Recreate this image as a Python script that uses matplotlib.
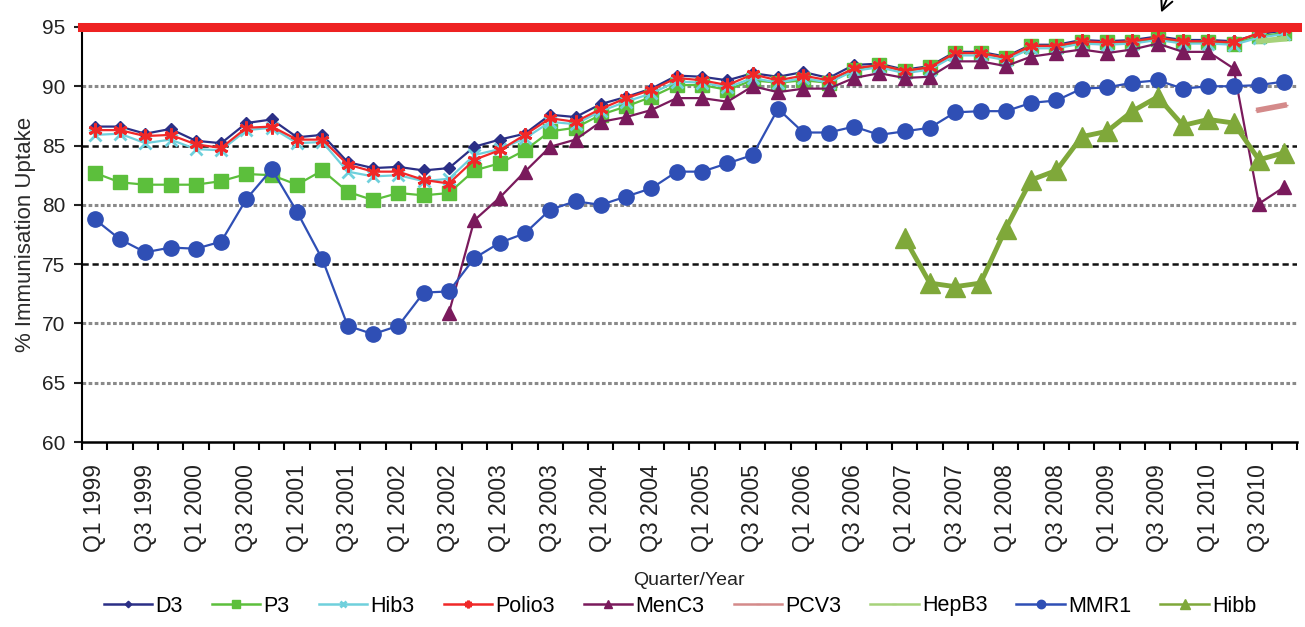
import numpy as np
import matplotlib
matplotlib.use("Agg")
from matplotlib import pyplot as plt

nan = np.nan

quarter_labels = ["Q1 1999", "Q3 1999", "Q1 2000", "Q3 2000", "Q1 2001", "Q3 2001",
                  "Q1 2002", "Q3 2002", "Q1 2003", "Q3 2003", "Q1 2004", "Q3 2004",
                  "Q1 2005", "Q3 2005", "Q1 2006", "Q3 2006", "Q1 2007", "Q3 2007",
                  "Q1 2008", "Q3 2008", "Q1 2009", "Q3 2009", "Q1 2010", "Q3 2010"]

d3 = [86.6, 86.6, 86.0, 86.4, 85.4, 85.2, 86.9, 87.2, 85.7, 85.9,
      83.6, 83.1, 83.2, 82.9, 83.1, 84.9, 85.5, 86.0, 87.6, 87.4,
      88.5, 89.1, 89.8, 90.9, 90.8, 90.5, 91.1, 90.8, 91.2, 90.7,
      91.8, 91.9, 91.4, 91.7, 92.9, 92.9, 92.5, 93.5, 93.5, 93.9,
      93.8, 93.9, 94.2, 93.9, 93.9, 93.8, 94.4, 94.7]
p3 = [82.7, 81.9, 81.7, 81.7, 81.7, 82.0, 82.6, 82.5, 81.7, 82.9,
      81.1, 80.4, 81.0, 80.8, 81.0, 82.9, 83.5, 84.6, 86.2, 86.5,
      87.6, 88.3, 89.1, 90.1, 90.1, 89.7, 90.5, 90.3, 90.5, 90.3,
      91.4, 91.8, 91.3, 91.6, 92.8, 92.8, 92.4, 93.4, 93.4, 93.7,
      93.7, 93.7, 94.0, 93.7, 93.7, 93.6, 94.2, 94.5]
hib3 = [85.9, 86.0, 85.2, 85.5, 84.7, 84.6, 86.3, 86.5, 85.2, 85.3,
        82.8, 82.4, 82.5, 82.0, 82.2, 84.2, 84.7, 85.6, 87.0, 86.8,
        87.9, 88.7, 89.4, 90.4, 90.3, 89.9, 90.7, 90.3, 90.7, 90.3,
        91.3, 91.6, 91.1, 91.4, 92.6, 92.6, 92.2, 93.2, 93.2, 93.6,
        93.5, 93.6, 93.9, 93.6, 93.6, 93.5, 94.1, 94.4]
polio3 = [86.3, 86.3, 85.8, 85.9, 85.1, 84.8, 86.5, 86.6, 85.5, 85.5,
          83.4, 82.8, 82.8, 82.1, 81.8, 83.8, 84.6, 85.9, 87.3, 87.0,
          88.1, 89.0, 89.7, 90.7, 90.5, 90.1, 91.0, 90.5, 90.9, 90.5,
          91.5, 91.8, 91.3, 91.6, 92.8, 92.8, 92.4, 93.4, 93.4, 93.8,
          93.7, 93.8, 94.1, 93.8, 93.8, 93.7, 94.5, 94.8]
menc3 = [nan] * 14 + [70.9, 78.7, 80.6, 82.8, 84.9, 85.5, 87.0, 87.4, 88.0, 89.0,
                      89.0, 88.7, 90.0, 89.5, 89.8, 89.8, 90.7, 91.1, 90.7, 90.8,
                      92.1, 92.1, 91.7, 92.5, 92.8, 93.1, 92.8, 93.1, 93.6, 92.9,
                      92.9, 91.5, 80.1, 81.5]
pcv3 = [nan] * 46 + [88.0, 88.4]
hepb3 = [nan] * 46 + [93.8, 94.0]
mmr1 = [78.8, 77.1, 76.0, 76.4, 76.3, 76.9, 80.5, 83.0, 79.4, 75.4,
        69.8, 69.1, 69.8, 72.6, 72.7, 75.5, 76.8, 77.6, 79.6, 80.3,
        80.0, 80.7, 81.4, 82.8, 82.8, 83.5, 84.2, 88.1, 86.1, 86.1,
        86.6, 85.9, 86.2, 86.5, 87.8, 87.9, 87.9, 88.6, 88.8, 89.8,
        89.9, 90.3, 90.5, 89.8, 90.0, 90.0, 90.1, 90.4]
hibb = [nan] * 32 + [77.2, 73.4, 73.1, 73.4, 78.0, 82.1, 82.9, 85.75, 86.2, 87.9,
                     89.1, 86.7, 87.2, 86.9, 83.8, 84.4]

target = 95

plt.rcParams['font.family'] = ['Liberation Sans', 'DejaVu Sans']

fig = plt.figure(figsize=(13.05, 6.27), dpi=100)
ax = fig.add_axes([0.0628, 0.295, 0.931, 0.662])

x = np.arange(len(d3))

# gridlines
for g in [90, 80, 70, 65]:
    ax.axhline(g, color='#8a8a8a', lw=2.2, ls=(0, (1.2, 0.8)), zorder=0)
for g in [85, 75]:
    ax.axhline(g, color='#111111', lw=1.8, ls=(0, (2.5, 1.5)), zorder=0)

ax.plot(x, d3, color='#2b2f86', marker='D', ms=6, lw=1.6, label='D3')
ax.plot(x, p3, color='#5cbf3c', marker='s', ms=10, lw=1.6, label='P3')
ax.plot(x, hib3, color='#6fd0dc', marker='x', ms=9, mew=2, lw=1.6, label='Hib3')
ax.plot(x, polio3, color='#f02828', marker=(6, 2, 0), ms=10, mew=2, lw=1.6, label='Polio3')
ax.plot(x, menc3, color='#7a1a5c', marker='^', ms=10, lw=1.6, label='MenC3')
ax.plot(x, pcv3, color='#d48a8a', marker='_', ms=6, lw=4, label='PCV3')
ax.plot(x, hepb3, color='#a6d27a', marker='_', ms=6, lw=4, label='HepB3')
ax.plot(x, mmr1, color='#2f4fb5', marker='o', ms=11, lw=1.6, label='MMR1')
ax.plot(x, hibb, color='#7fa83a', marker='^', ms=14, lw=3.5, label='Hibb')

ax.axhline(target, color='#ee2222', lw=6.5, clip_on=False, zorder=5)

ax.set_ylim(60, 95)
ax.set_xlim(-0.5, len(d3) - 0.5)
ax.set_yticks(np.arange(60, 96, 5))
ax.tick_params(axis='y', labelsize=15, length=6, width=1.5, pad=6, colors='#222222')
ax.set_xticks(np.arange(0, len(d3), 2))
ax.set_xticklabels(quarter_labels, rotation=90, fontsize=16.5, color='#222222')
ax.set_xticks(np.arange(-0.5, len(d3), 1), minor=True)
ax.tick_params(axis='x', which='major', length=0, pad=16)
ax.tick_params(axis='x', which='minor', length=6, width=1.5)

for s in ['top', 'right']:
    ax.spines[s].set_visible(False)
ax.spines['left'].set_linewidth(1.5)
ax.spines['bottom'].set_linewidth(1.8)

ax.set_ylabel('% Immunisation Uptake', fontsize=16, color='#2b2b2b', labelpad=4)
ax.set_xlabel('Quarter/Year', fontsize=14, color='#222222', labelpad=14)

handles, labels = ax.get_legend_handles_labels()
leg = fig.legend(handles, labels, loc='center', ncol=9, frameon=False,
                 fontsize=15.5, bbox_to_anchor=(680 / 1305, 1 - 606 / 627),
                 handlelength=2.25, handletextpad=0.15, columnspacing=1.35,
                 markerscale=0.55)
for h in leg.legend_handles:
    h.set_linewidth(1.8)

# hand-drawn pointer at the top
ax.annotate('', xy=(1160, 612), xytext=(1172, 640), xycoords='figure pixels',
            textcoords='figure pixels', annotation_clip=False,
            arrowprops=dict(arrowstyle='->', color='black', lw=1.4, mutation_scale=22))

fig.savefig('out.png', dpi=100)
